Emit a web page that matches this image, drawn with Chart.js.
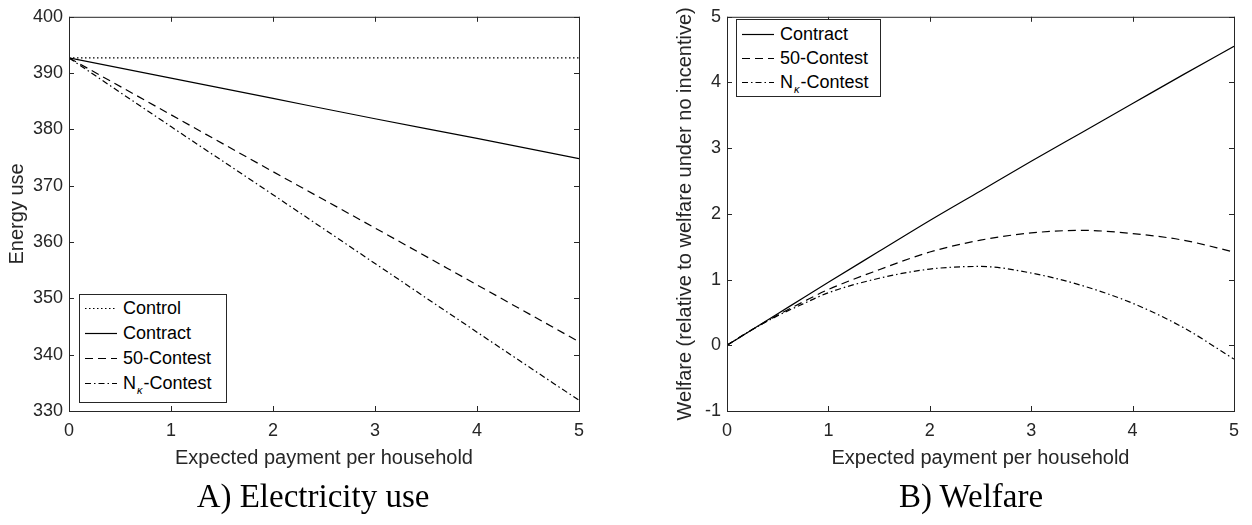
<!DOCTYPE html>
<html>
<head>
<meta charset="utf-8">
<script src="https://cdn.jsdelivr.net/npm/chart.js@4.4.1/dist/chart.umd.min.js"></script>
<style>
  body { margin: 0; background: #fff; width: 1252px; height: 525px; position: relative; overflow: hidden; font-family: "Liberation Sans", Arial, sans-serif; }
  .wrap { position: absolute; top: 0; height: 480px; }
  .legend { position: absolute; border: 1px solid #262626; background: #fff; font-size: 18px; color: #000; }
  .row { position: absolute; left: 0; height: 24px; line-height: 24px; white-space: nowrap; }
  .row svg { position: absolute; left: 5px; top: 11px; }
  .row span.t { position: absolute; left: 43px; top: 0; }
  .row sub { font-size: 11px; font-style: italic; position: relative; top: 5px; vertical-align: baseline; margin-left: 1px; margin-right: 1px; }
  .caption { position: absolute; top: 478px; font-family: "Liberation Serif", "DejaVu Serif", serif; font-size: 33px; color: #000; text-align: center; width: 400px; }
</style>
</head>
<body>
<div class="wrap" style="left:0;width:620px"><canvas id="energy-chart"></canvas></div>
<div class="wrap" style="left:630px;width:622px"><canvas id="welfare-chart"></canvas></div>

<div class="legend" style="left:79px;top:294px;width:146px;height:107px">
  <div class="row" style="top:1px"><svg width="32" height="3"><line x1="0" y1="1.5" x2="32" y2="1.5" stroke="#000" stroke-width="1.2" stroke-dasharray="1.5,2.5"/></svg><span class="t">Control</span></div>
  <div class="row" style="top:26px"><svg width="32" height="3"><line x1="0" y1="1.5" x2="32" y2="1.5" stroke="#000" stroke-width="1.2"/></svg><span class="t">Contract</span></div>
  <div class="row" style="top:51px"><svg width="32" height="3"><line x1="0" y1="1.5" x2="32" y2="1.5" stroke="#000" stroke-width="1.2" stroke-dasharray="8,5"/></svg><span class="t">50-Contest</span></div>
  <div class="row" style="top:76px"><svg width="32" height="3"><line x1="0" y1="1.5" x2="32" y2="1.5" stroke="#000" stroke-width="1.2" stroke-dasharray="6,3,1.5,3"/></svg><span class="t">N<sub>κ</sub>-Contest</span></div>
</div>

<div class="legend" style="left:736px;top:19px;width:143px;height:76px">
  <div class="row" style="top:2px"><svg width="32" height="3"><line x1="0" y1="1.5" x2="32" y2="1.5" stroke="#000" stroke-width="1.2"/></svg><span class="t">Contract</span></div>
  <div class="row" style="top:26px"><svg width="32" height="3"><line x1="0" y1="1.5" x2="32" y2="1.5" stroke="#000" stroke-width="1.2" stroke-dasharray="8,5"/></svg><span class="t">50-Contest</span></div>
  <div class="row" style="top:50px"><svg width="32" height="3"><line x1="0" y1="1.5" x2="32" y2="1.5" stroke="#000" stroke-width="1.2" stroke-dasharray="6,3,1.5,3"/></svg><span class="t">N<sub>κ</sub>-Contest</span></div>
</div>

<div class="caption" style="left:113px">A) Electricity use</div>
<div class="caption" style="left:771px">B) Welfare</div>

<script>
// panel A: energy use vs expected payment
const paymentA = [0, 1, 2, 3, 4, 5];
const controlUse = [392.7, 392.7, 392.7, 392.7, 392.7, 392.7];
const contractUse = [392.7, 389.1, 385.5, 381.9, 378.4, 374.8];
const contest50Use = [392.7, 382.6, 372.5, 362.5, 352.4, 342.3];
const contestNkUse = [392.7, 380.5, 368.4, 356.2, 344.0, 331.9];
const energyTicks = [330, 340, 350, 360, 370, 380, 390, 400];

// panel B: welfare vs expected payment
const paymentB = [0, 0.25, 0.5, 0.75, 1, 1.5, 2, 2.5, 3, 3.5, 4, 4.5, 5];
const contractWelfare = [0, 0.24, 0.48, 0.72, 0.96, 1.43, 1.9, 2.35, 2.8, 3.24, 3.68, 4.12, 4.55];
const contest50Welfare = [0, 0.24, 0.46, 0.66, 0.85, 1.15, 1.42, 1.6, 1.71, 1.75, 1.7, 1.6, 1.42];
const contestNkWelfare = [0, 0.24, 0.45, 0.63, 0.8, 1.02, 1.16, 1.2, 1.1, 0.91, 0.64, 0.27, -0.21];
const welfareTicks = [-1, 0, 1, 2, 3, 4, 5];
const paymentTicks = [0, 1, 2, 3, 4, 5];

const AXIS = "#262626";
const FONT = "'Liberation Sans', Arial, sans-serif";

const pts = (xs, ys) => xs.map((x, i) => ({ x, y: ys[i] }));

function line(data, dash) {
  return {
    data,
    borderColor: "#000",
    borderWidth: 1.2,
    borderDash: dash,
    pointRadius: 0,
    fill: false,
    tension: 0.4,
    cubicInterpolationMode: "monotone",
  };
}

// MATLAB-style box with inward ticks on all four sides
const boxPlugin = {
  id: "box",
  afterDraw(chart) {
    const { ctx, chartArea: a, scales } = chart;
    ctx.save();
    ctx.strokeStyle = AXIS;
    ctx.lineWidth = 1;
    ctx.strokeRect(a.left + 0.5, a.top + 0.5, a.right - a.left, a.bottom - a.top);
    ctx.beginPath();
    scales.x.ticks.forEach((t) => {
      const px = Math.round(scales.x.getPixelForValue(t.value)) + 0.5;
      ctx.moveTo(px, a.bottom); ctx.lineTo(px, a.bottom - 5);
      ctx.moveTo(px, a.top); ctx.lineTo(px, a.top + 5);
    });
    scales.y.ticks.forEach((t) => {
      const py = Math.round(scales.y.getPixelForValue(t.value)) + 0.5;
      ctx.moveTo(a.left, py); ctx.lineTo(a.left + 5, py);
      ctx.moveTo(a.right, py); ctx.lineTo(a.right - 5, py);
    });
    ctx.stroke();
    ctx.restore();
  },
};

function makeChart(id, datasets, yTicks, yTitle, yWidth, yTitlePad, padRight) {
  const ctx = document.getElementById(id).getContext("2d");
  return new Chart(ctx, {
    type: "line",
    data: { datasets },
    options: {
      responsive: false,
      animation: false,
      layout: { padding: { top: 11, right: padRight, bottom: 0, left: 0 } },
      plugins: { legend: { display: false }, tooltip: { enabled: false } },
      scales: {
        x: {
          type: "linear",
          min: 0,
          max: 5,
          afterBuildTicks: (s) => { s.ticks = paymentTicks.map((v) => ({ value: v })); },
          afterFit: (s) => { s.height = 69; },
          grid: { display: false, drawTicks: false },
          border: { display: false },
          ticks: { color: AXIS, font: { family: FONT, size: 18 }, padding: 9 },
          title: { display: true, text: "Expected payment per household", color: AXIS, font: { family: FONT, size: 20 }, padding: { top: 0, bottom: 10 } },
        },
        y: {
          type: "linear",
          min: yTicks[0],
          max: yTicks[yTicks.length - 1],
          afterBuildTicks: (s) => { s.ticks = yTicks.map((v) => ({ value: v })); },
          afterFit: (s) => { s.width = yWidth; },
          grid: { display: false, drawTicks: false },
          border: { display: false },
          ticks: { color: AXIS, font: { family: FONT, size: 18 }, padding: 6 },
          title: { display: true, text: yTitle, color: AXIS, font: { family: FONT, size: 20 }, padding: { top: yTitlePad, bottom: 0 } },
        },
      },
    },
    plugins: [boxPlugin],
  });
}

const c1 = document.getElementById("energy-chart");
c1.width = 620; c1.height = 480;
const c2 = document.getElementById("welfare-chart");
c2.width = 622; c2.height = 480;

makeChart("energy-chart", [
  line(pts(paymentA, controlUse), [1.5, 2.5]),
  line(pts(paymentA, contractUse), []),
  line(pts(paymentA, contest50Use), [8, 5]),
  line(pts(paymentA, contestNkUse), [6, 3, 1.5, 3]),
], energyTicks, "Energy use", 69, 5, 41);

makeChart("welfare-chart", [
  line(pts(paymentB, contractWelfare), []),
  line(pts(paymentB, contest50Welfare), [8, 5]),
  line(pts(paymentB, contestNkWelfare), [6, 3, 1.5, 3]),
], welfareTicks, "Welfare (relative to welfare under no incentive)", 97, 43, 18);
</script>
</body>
</html>
